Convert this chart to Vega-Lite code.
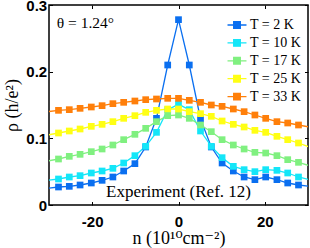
{
 "$schema": "https://vega.github.io/schema/vega-lite/v6.json",
 "width": 259,
 "height": 200,
 "autosize": {"type": "none"},
 "padding": {"left": 49, "top": 5, "right": 2, "bottom": 43},
 "background": "white",
 "config": {"view": {"stroke": "#000", "strokeWidth": 1.5}, "axis": {"grid": false, "domain": false}},
 "datasets": {
  "main": [
   {"n": -30.3, "rho": 0.025, "T": "T = 2 K", "edge": true},
   {"n": -27.8, "rho": 0.027, "T": "T = 2 K"}, {"n": -25.3, "rho": 0.028, "T": "T = 2 K"}, {"n": -22.8, "rho": 0.030, "T": "T = 2 K"}, {"n": -20.2, "rho": 0.033, "T": "T = 2 K"}, {"n": -17.7, "rho": 0.037, "T": "T = 2 K"}, {"n": -15.2, "rho": 0.042, "T": "T = 2 K"}, {"n": -12.7, "rho": 0.051, "T": "T = 2 K"}, {"n": -10.1, "rho": 0.062, "T": "T = 2 K"}, {"n": -7.6, "rho": 0.087, "T": "T = 2 K"}, {"n": -5.1, "rho": 0.130, "T": "T = 2 K"}, {"n": -2.5, "rho": 0.210, "T": "T = 2 K"}, {"n": 0, "rho": 0.278, "T": "T = 2 K"}, {"n": 2.5, "rho": 0.210, "T": "T = 2 K"}, {"n": 5.1, "rho": 0.129, "T": "T = 2 K"}, {"n": 7.6, "rho": 0.087, "T": "T = 2 K"}, {"n": 10.1, "rho": 0.063, "T": "T = 2 K"}, {"n": 12.7, "rho": 0.051, "T": "T = 2 K"}, {"n": 15.2, "rho": 0.042, "T": "T = 2 K"}, {"n": 17.7, "rho": 0.038, "T": "T = 2 K"}, {"n": 20.2, "rho": 0.042, "T": "T = 2 K"}, {"n": 22.8, "rho": 0.038, "T": "T = 2 K"}, {"n": 25.3, "rho": 0.033, "T": "T = 2 K"}, {"n": 27.8, "rho": 0.030, "T": "T = 2 K"},
   {"n": 30.3, "rho": 0.028, "T": "T = 2 K", "edge": true},
   {"n": -30.3, "rho": 0.037, "T": "T = 10 K", "edge": true},
   {"n": -27.8, "rho": 0.039, "T": "T = 10 K"}, {"n": -25.3, "rho": 0.042, "T": "T = 10 K"}, {"n": -22.8, "rho": 0.044, "T": "T = 10 K"}, {"n": -20.2, "rho": 0.048, "T": "T = 10 K"}, {"n": -17.7, "rho": 0.051, "T": "T = 10 K"}, {"n": -15.2, "rho": 0.055, "T": "T = 10 K"}, {"n": -12.7, "rho": 0.063, "T": "T = 10 K"}, {"n": -10.1, "rho": 0.074, "T": "T = 10 K"}, {"n": -7.6, "rho": 0.088, "T": "T = 10 K"}, {"n": -5.1, "rho": 0.109, "T": "T = 10 K"}, {"n": -2.5, "rho": 0.143, "T": "T = 10 K"}, {"n": 0, "rho": 0.151, "T": "T = 10 K"}, {"n": 2.5, "rho": 0.143, "T": "T = 10 K"}, {"n": 5.1, "rho": 0.111, "T": "T = 10 K"}, {"n": 7.6, "rho": 0.088, "T": "T = 10 K"}, {"n": 10.1, "rho": 0.071, "T": "T = 10 K"}, {"n": 12.7, "rho": 0.058, "T": "T = 10 K"}, {"n": 15.2, "rho": 0.053, "T": "T = 10 K"}, {"n": 17.7, "rho": 0.050, "T": "T = 10 K"}, {"n": 20.2, "rho": 0.053, "T": "T = 10 K"}, {"n": 22.8, "rho": 0.052, "T": "T = 10 K"}, {"n": 25.3, "rho": 0.048, "T": "T = 10 K"}, {"n": 27.8, "rho": 0.042, "T": "T = 10 K"},
   {"n": 30.3, "rho": 0.038, "T": "T = 10 K", "edge": true},
   {"n": -30.3, "rho": 0.066, "T": "T = 17 K", "edge": true},
   {"n": -27.8, "rho": 0.069, "T": "T = 17 K"}, {"n": -25.3, "rho": 0.073, "T": "T = 17 K"}, {"n": -22.8, "rho": 0.076, "T": "T = 17 K"}, {"n": -20.2, "rho": 0.080, "T": "T = 17 K"}, {"n": -17.7, "rho": 0.084, "T": "T = 17 K"}, {"n": -15.2, "rho": 0.090, "T": "T = 17 K"}, {"n": -12.7, "rho": 0.098, "T": "T = 17 K"}, {"n": -10.1, "rho": 0.106, "T": "T = 17 K"}, {"n": -7.6, "rho": 0.115, "T": "T = 17 K"}, {"n": -5.1, "rho": 0.125, "T": "T = 17 K"}, {"n": -2.5, "rho": 0.134, "T": "T = 17 K"}, {"n": 0, "rho": 0.135, "T": "T = 17 K"}, {"n": 2.5, "rho": 0.130, "T": "T = 17 K"}, {"n": 5.1, "rho": 0.120, "T": "T = 17 K"}, {"n": 7.6, "rho": 0.110, "T": "T = 17 K"}, {"n": 10.1, "rho": 0.098, "T": "T = 17 K"}, {"n": 12.7, "rho": 0.090, "T": "T = 17 K"}, {"n": 15.2, "rho": 0.084, "T": "T = 17 K"}, {"n": 17.7, "rho": 0.079, "T": "T = 17 K"}, {"n": 20.2, "rho": 0.078, "T": "T = 17 K"}, {"n": 22.8, "rho": 0.074, "T": "T = 17 K"}, {"n": 25.3, "rho": 0.068, "T": "T = 17 K"}, {"n": 27.8, "rho": 0.064, "T": "T = 17 K"},
   {"n": 30.3, "rho": 0.059, "T": "T = 17 K", "edge": true},
   {"n": -30.3, "rho": 0.105, "T": "T = 25 K", "edge": true},
   {"n": -27.8, "rho": 0.108, "T": "T = 25 K"}, {"n": -25.3, "rho": 0.111, "T": "T = 25 K"}, {"n": -22.8, "rho": 0.114, "T": "T = 25 K"}, {"n": -20.2, "rho": 0.118, "T": "T = 25 K"}, {"n": -17.7, "rho": 0.121, "T": "T = 25 K"}, {"n": -15.2, "rho": 0.125, "T": "T = 25 K"}, {"n": -12.7, "rho": 0.130, "T": "T = 25 K"}, {"n": -10.1, "rho": 0.134, "T": "T = 25 K"}, {"n": -7.6, "rho": 0.139, "T": "T = 25 K"}, {"n": -5.1, "rho": 0.142, "T": "T = 25 K"}, {"n": -2.5, "rho": 0.144, "T": "T = 25 K"}, {"n": 0, "rho": 0.144, "T": "T = 25 K"}, {"n": 2.5, "rho": 0.140, "T": "T = 25 K"}, {"n": 5.1, "rho": 0.137, "T": "T = 25 K"}, {"n": 7.6, "rho": 0.133, "T": "T = 25 K"}, {"n": 10.1, "rho": 0.126, "T": "T = 25 K"}, {"n": 12.7, "rho": 0.121, "T": "T = 25 K"}, {"n": 15.2, "rho": 0.117, "T": "T = 25 K"}, {"n": 17.7, "rho": 0.112, "T": "T = 25 K"}, {"n": 20.2, "rho": 0.109, "T": "T = 25 K"}, {"n": 22.8, "rho": 0.103, "T": "T = 25 K"}, {"n": 25.3, "rho": 0.098, "T": "T = 25 K"}, {"n": 27.8, "rho": 0.093, "T": "T = 25 K"},
   {"n": 30.3, "rho": 0.087, "T": "T = 25 K", "edge": true},
   {"n": -30.3, "rho": 0.140, "T": "T = 33 K", "edge": true},
   {"n": -27.8, "rho": 0.142, "T": "T = 33 K"}, {"n": -25.3, "rho": 0.143, "T": "T = 33 K"}, {"n": -22.8, "rho": 0.145, "T": "T = 33 K"}, {"n": -20.2, "rho": 0.147, "T": "T = 33 K"}, {"n": -17.7, "rho": 0.149, "T": "T = 33 K"}, {"n": -15.2, "rho": 0.152, "T": "T = 33 K"}, {"n": -12.7, "rho": 0.154, "T": "T = 33 K"}, {"n": -10.1, "rho": 0.156, "T": "T = 33 K"}, {"n": -7.6, "rho": 0.158, "T": "T = 33 K"}, {"n": -5.1, "rho": 0.159, "T": "T = 33 K"}, {"n": -2.5, "rho": 0.160, "T": "T = 33 K"}, {"n": 0, "rho": 0.160, "T": "T = 33 K"}, {"n": 2.5, "rho": 0.157, "T": "T = 33 K"}, {"n": 5.1, "rho": 0.154, "T": "T = 33 K"}, {"n": 7.6, "rho": 0.150, "T": "T = 33 K"}, {"n": 10.1, "rho": 0.148, "T": "T = 33 K"}, {"n": 12.7, "rho": 0.144, "T": "T = 33 K"}, {"n": 15.2, "rho": 0.140, "T": "T = 33 K"}, {"n": 17.7, "rho": 0.135, "T": "T = 33 K"}, {"n": 20.2, "rho": 0.130, "T": "T = 33 K"}, {"n": 22.8, "rho": 0.125, "T": "T = 33 K"}, {"n": 25.3, "rho": 0.123, "T": "T = 33 K"}, {"n": 27.8, "rho": 0.120, "T": "T = 33 K"},
   {"n": 30.3, "rho": 0.117, "T": "T = 33 K", "edge": true}
  ],
  "notes": [
   {"n": -28.2, "rho": 0.273, "label": "θ = 1.24°", "kind": "theta"},
   {"n": 0, "rho": 0.02, "label": "Experiment (Ref. 12)", "kind": "exp"}
  ]
 },
 "layer": [
  {
   "data": {"name": "main"},
   "mark": {"type": "line", "strokeWidth": 1.3, "clip": true},
   "encoding": {
    "x": {"field": "n", "type": "quantitative", "scale": {"domain": [-30, 30], "nice": false},
     "axis": {"orient": "bottom", "values": [-20, 0, 20], "tickSize": -3.5, "tickColor": "#000", "tickWidth": 1,
      "labelFont": "Liberation Sans", "labelFontWeight": "bold", "labelFontSize": 15, "labelColor": "#000", "labelPadding": 12.5,
      "labelExpr": "datum.value + ''", "labelFlush": false,
      "title": "n (10¹⁰cm⁻²)", "titleFont": "Liberation Serif, DejaVu Serif", "titleFontSize": 18, "titleFontWeight": "normal", "titleColor": "#000",
      "titleX": 129.5, "titleY": 38.5, "titleBaseline": "alphabetic", "titleAlign": "center"}},
    "y": {"field": "rho", "type": "quantitative", "scale": {"domain": [0, 0.3], "nice": false},
     "axis": {"orient": "left", "values": [0, 0.1, 0.2, 0.3], "tickSize": -3.5, "tickColor": "#000", "tickWidth": 1,
      "labelFont": "Liberation Sans", "labelFontWeight": "bold", "labelFontSize": 15, "labelColor": "#000", "labelPadding": 5.8,
      "labelExpr": "datum.value == 0 ? '0' : format(datum.value, '.1f')",
      "title": "ρ (h/e²)", "titleFont": "Liberation Serif, DejaVu Serif", "titleFontSize": 18, "titleFontWeight": "normal", "titleColor": "#000",
      "titleX": -36.5, "titleY": 100, "titleAngle": -90, "titleBaseline": "middle", "titleAlign": "center"}},
    "color": {"field": "T", "type": "nominal",
     "scale": {"domain": ["T = 2 K", "T = 10 K", "T = 17 K", "T = 25 K", "T = 33 K"], "range": ["#0a6ff0", "#14e6f8", "#80f080", "#ffff14", "#ff7f0a"]},
     "legend": {"orient": "none", "legendX": 181, "legendY": 13, "title": null, "padding": 0,
      "symbolType": "M-2,0H2M-0.7,-0.7H0.7V0.7H-0.7Z", "symbolSize": 90, "symbolStrokeWidth": 1.3,
      "labelFont": "Liberation Serif", "labelFontSize": 14, "labelColor": "#000", "labelOffset": 6, "rowPadding": 3.9,
      "encode": {"symbols": {"update": {"fill": {"scale": "color", "field": "value"}, "stroke": {"scale": "color", "field": "value"}, "opacity": {"value": 1}}}}}}
   }
  },
  {
   "data": {"name": "main"},
   "transform": [{"filter": "!datum.edge"}],
   "mark": {"type": "point", "shape": "square", "filled": true, "size": 45, "opacity": 1, "clip": true},
   "encoding": {
    "x": {"field": "n", "type": "quantitative", "axis": {"orient": "top", "values": [-20, 0, 20], "tickSize": -3.5, "tickColor": "#000", "labels": false, "title": null}},
    "y": {"field": "rho", "type": "quantitative", "axis": {"orient": "right", "values": [0, 0.1, 0.2, 0.3], "tickSize": -3.5, "tickColor": "#000", "labels": false, "title": null}},
    "color": {"field": "T", "type": "nominal"}
   }
  },
  {
   "data": {"name": "notes"},
   "transform": [{"filter": "datum.kind == 'theta'"}],
   "mark": {"type": "text", "align": "left", "baseline": "middle", "font": "Liberation Serif", "fontSize": 15.5, "color": "#000"},
   "encoding": {
    "x": {"field": "n", "type": "quantitative", "axis": null},
    "y": {"field": "rho", "type": "quantitative", "axis": null},
    "text": {"field": "label"}
   }
  },
  {
   "data": {"name": "notes"},
   "transform": [{"filter": "datum.kind == 'exp'"}],
   "mark": {"type": "text", "align": "center", "baseline": "middle", "font": "Liberation Serif", "fontSize": 17, "color": "#000"},
   "encoding": {
    "x": {"field": "n", "type": "quantitative", "axis": null},
    "y": {"field": "rho", "type": "quantitative", "axis": null},
    "text": {"field": "label"}
   }
  }
 ],
 "resolve": {"axis": {"x": "independent", "y": "independent"}}
}
